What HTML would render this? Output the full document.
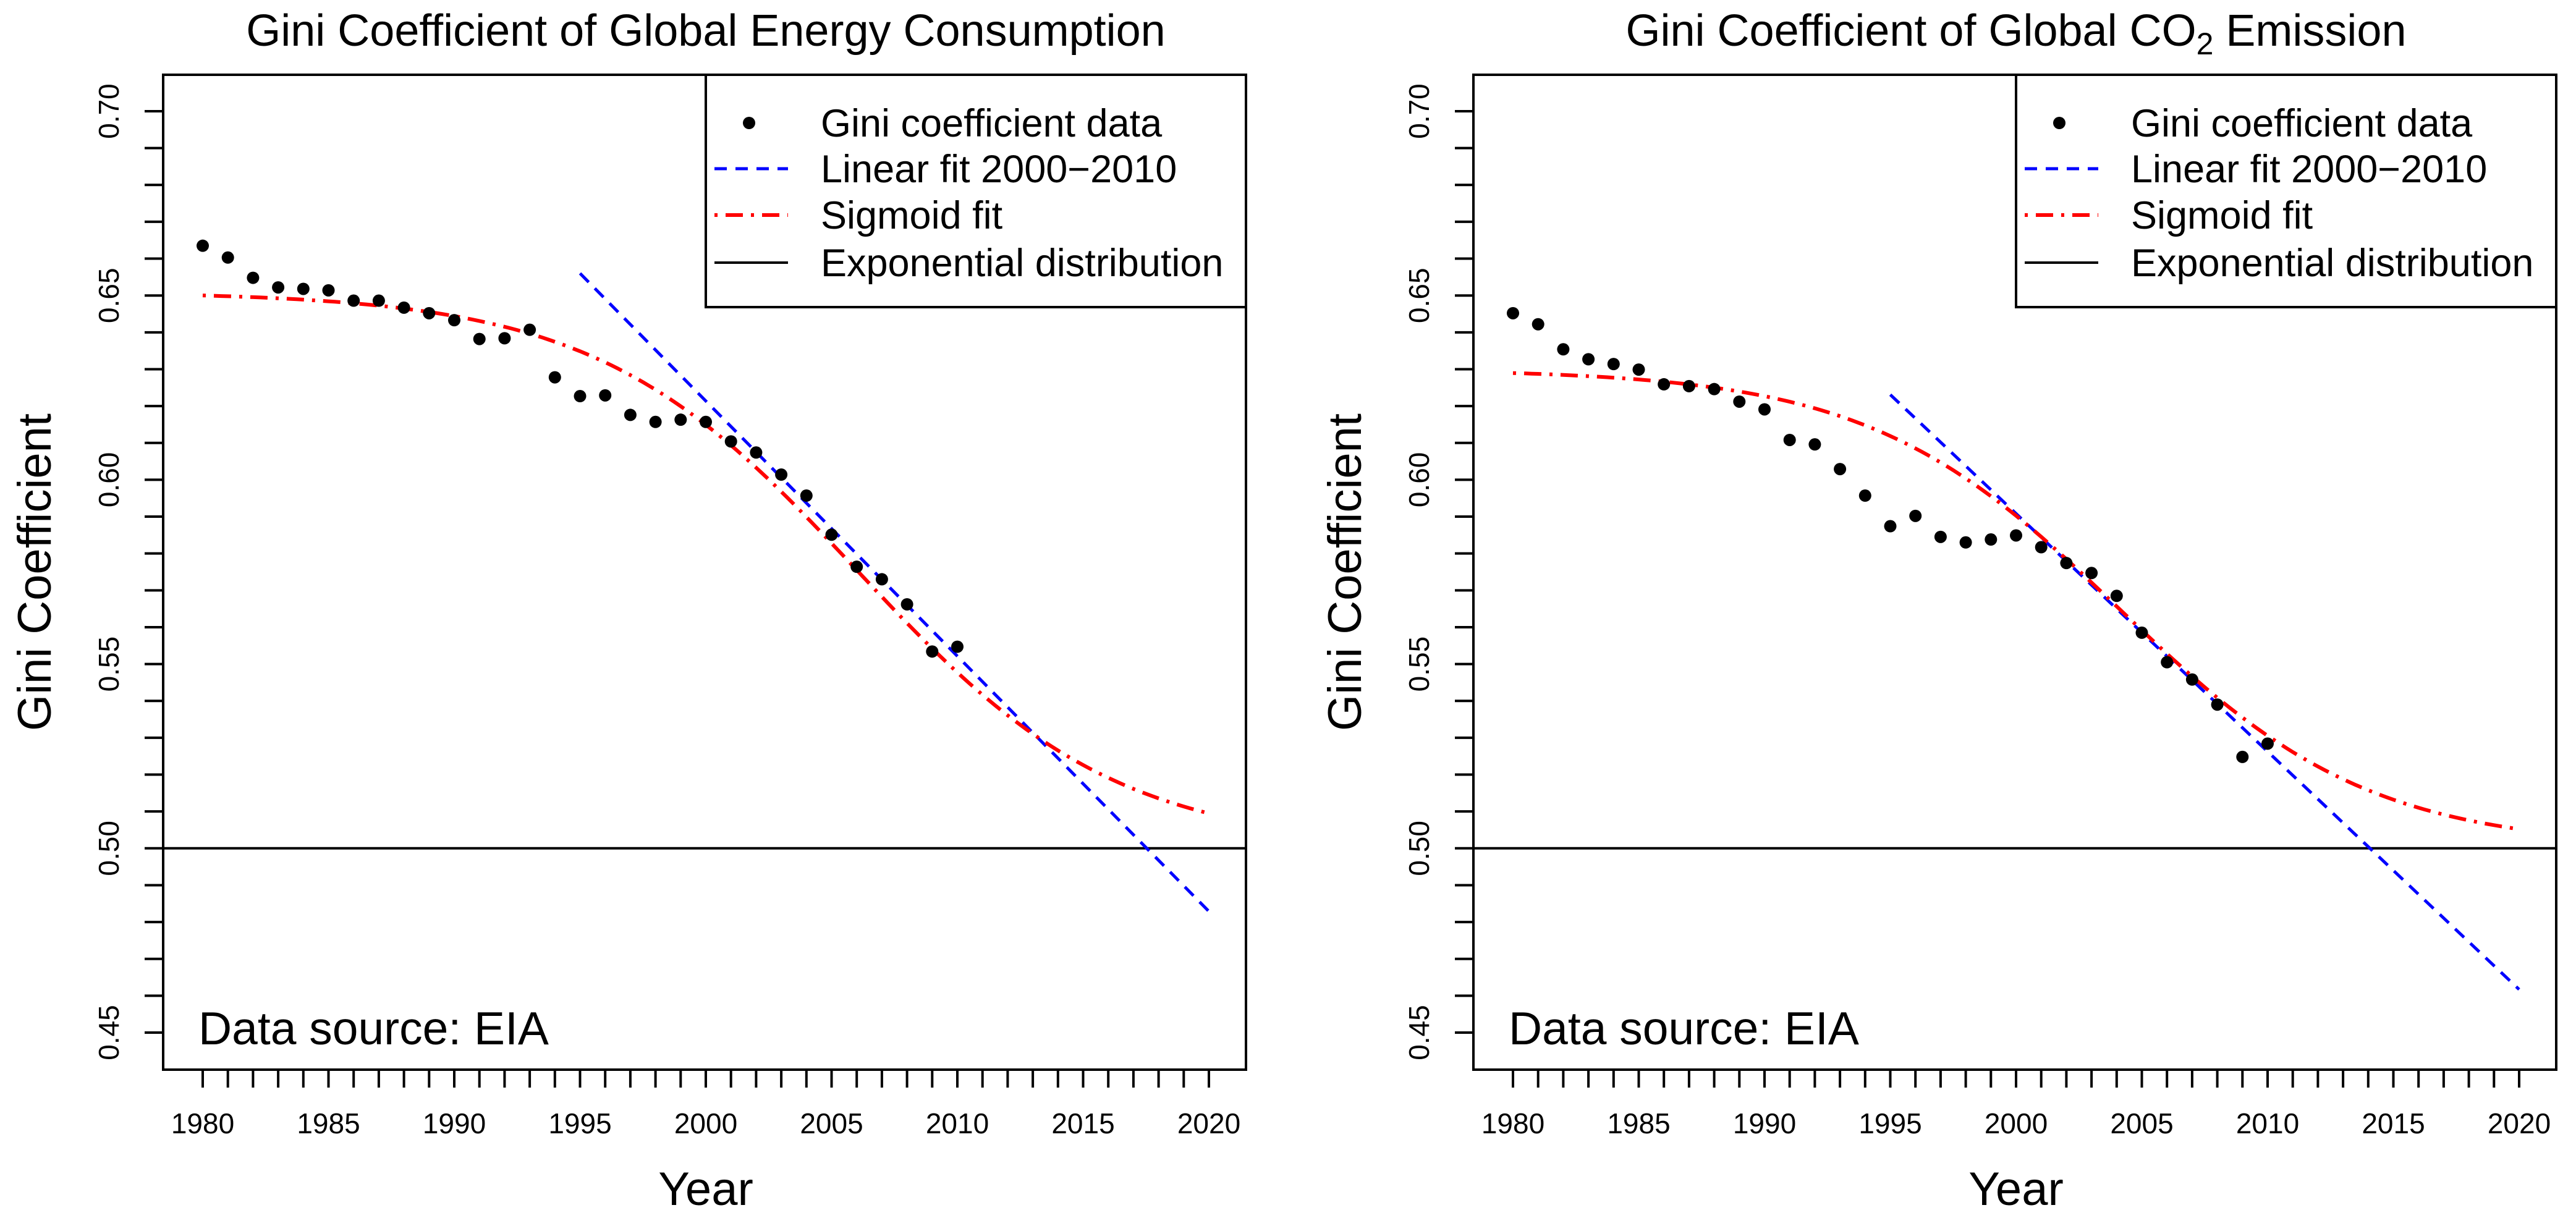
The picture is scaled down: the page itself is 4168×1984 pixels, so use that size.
<!DOCTYPE html>
<html><head><meta charset="utf-8">
<style>
html,body{margin:0;padding:0;background:#fff;}
svg{display:block;font-family:"Liberation Sans",Arial,sans-serif;}
</style></head>
<body>
<svg id="chart" width="4168" height="1984" viewBox="0 0 4168 1984" xmlns="http://www.w3.org/2000/svg"></svg>
<script>
// ---- data ----
const years = [1980,1981,1982,1983,1984,1985,1986,1987,1988,1989,1990,1991,1992,1993,1994,1995,1996,1997,1998,1999,2000,2001,2002,2003,2004,2005,2006,2007,2008,2009,2010];
const energyGini = [0.6635,0.6603,0.6548,0.6522,0.6518,0.6514,0.6486,0.6486,0.6467,0.6452,0.6433,0.6382,0.6384,0.6407,0.6278,0.6227,0.6229,0.6176,0.6157,0.6163,0.6157,0.6104,0.6074,0.6014,0.5957,0.5851,0.5764,0.5730,0.5662,0.5534,0.5547];
const co2Gini = [0.6452,0.6422,0.6354,0.6327,0.6314,0.6299,0.6259,0.6254,0.6246,0.6212,0.6191,0.6108,0.6096,0.6029,0.5957,0.5874,0.5902,0.5845,0.5830,0.5838,0.5849,0.5817,0.5774,0.5747,0.5685,0.5585,0.5505,0.5458,0.5390,0.5248,0.5284];
// linear fit: [value at 1995, value at 2020]
const energyLinear = [0.6560, 0.4829];
const co2Linear = [0.6231, 0.4617];
const linearYears = [1995, 2020];
// sigmoid fit params: [upper, lower, midpoint year, scale]
const energySigmoid = [0.651, 0.500, 2006.0, 5.18];
const co2Sigmoid = [0.630, 0.500, 2004.1, 5.0];
const exponentialLevel = 0.5;
const xTickLabels = [1980,1985,1990,1995,2000,2005,2010,2015,2020];
const yTickLabels = [0.45,0.50,0.55,0.60,0.65,0.70];
const legendLabels = ["Gini coefficient data","Linear fit 2000\u22122010","Sigmoid fit","Exponential distribution"];

const NS = "http://www.w3.org/2000/svg";
const svg = document.getElementById('chart');
function mk(tag, attrs, parent){
  const e = document.createElementNS(NS, tag);
  for (const k in attrs) e.setAttribute(k, attrs[k]);
  (parent||svg).appendChild(e);
  return e;
}

function drawPanel(ox, key, titleParts, gini, lin, sig){
  const L = 264 + ox, R = 2016 + ox, T = 121, B = 1731;
  const xs = y => 328 + ox + (y - 1980) * 40.7;
  const ys = v => 1671 - (v - 0.45) / 0.05 * 298.2;
  const g = mk('g', {});
  
  

  const t = mk('text', {x: 1142 + ox, y: 74, 'font-size': 72, 'text-anchor': 'middle'}, g);
  
  
  titleParts.forEach(p => {
    const s = mk('tspan', p.sub ? {'font-size': 50, dy: 14} : (p.after ? {dy: -14} : {}), t);
    s.textContent = p.text;
  });

  const fr = mk('rect', {x: L, y: T, width: R - L, height: B - T, fill: 'none', stroke: '#000', 'stroke-width': 4}, g);
  
  

  const xa = mk('g', {stroke: '#000', 'stroke-width': 4}, g);
  
  
  for (let y = 1980; y <= 2020; y++) mk('line', {x1: xs(y), x2: xs(y), y1: B, y2: B + 29}, xa);
  xTickLabels.forEach(v => {
    const tl = mk('text', {x: xs(v), y: 1834, 'font-size': 46, 'text-anchor': 'middle'}, g);
    
    
    tl.textContent = v;
  });
  const ya = mk('g', {stroke: '#000', 'stroke-width': 4}, g);
  
  
  for (let i = 45; i <= 70; i++) mk('line', {x1: L - 30, x2: L, y1: ys(i / 100), y2: ys(i / 100)}, ya);
  yTickLabels.forEach(v => {
    const tl = mk('text', {x: 0, y: 0, 'font-size': 46, 'text-anchor': 'middle', transform: `translate(${192 + ox},${ys(v)}) rotate(-90)`}, g);
    
    
    tl.textContent = v.toFixed(2);
  });
  const xt = mk('text', {x: 1142 + ox, y: 1950, 'font-size': 76, 'text-anchor': 'middle'}, g);
  
  
  xt.textContent = 'Year';
  const yt = mk('text', {x: 0, y: 0, 'font-size': 76, 'text-anchor': 'middle', transform: `translate(${82 + ox},926) rotate(-90)`}, g);
  
  
  yt.textContent = 'Gini Coefficient';

  const el = mk('line', {x1: L, x2: R, y1: ys(exponentialLevel), y2: ys(exponentialLevel), stroke: '#000', 'stroke-width': 4}, g);
  
  

  const ll = mk('line', {x1: xs(linearYears[0]), y1: ys(lin[0]), x2: xs(linearYears[1]), y2: ys(lin[1]), stroke: '#0000ff', 'stroke-width': 5, 'stroke-dasharray': '20,14'}, g);
  
  

  let d = '';
  for (let x = 1980; x <= 2020.001; x += 0.25) {
    const v = sig[1] + (sig[0] - sig[1]) / (1 + Math.exp((x - sig[2]) / sig[3]));
    d += (d ? 'L' : 'M') + xs(x).toFixed(1) + ',' + ys(v).toFixed(1);
  }
  const sp = mk('path', {d: d, fill: 'none', stroke: '#ff0000', 'stroke-width': 6, 'stroke-dasharray': '5,13,28,13'}, g);
  
  

  const pg = mk('g', {fill: '#000'}, g);
  
  
  years.forEach((yr, i) => {
    const c = mk('circle', {cx: xs(yr), cy: ys(gini[i]), r: 10}, pg);
    
    
  });

  const ds = mk('text', {x: 321 + ox, y: 1690, 'font-size': 75}, g);
  
  
  ds.textContent = 'Data source: EIA';

  const lg = mk('g', {}, g);
  
  
  const lx = 1142 + ox;
  mk('rect', {x: lx, y: T, width: R - lx, height: 497 - T, fill: '#fff', stroke: '#000', 'stroke-width': 4}, lg);
  const rows = [199, 273, 348, 425];
  mk('circle', {cx: 1212 + ox, cy: rows[0], r: 10, fill: '#000'}, lg);
  mk('line', {x1: 1156 + ox, x2: 1275 + ox, y1: rows[1], y2: rows[1], stroke: '#0000ff', 'stroke-width': 5, 'stroke-dasharray': '20,14'}, lg);
  mk('line', {x1: 1156 + ox, x2: 1275 + ox, y1: rows[2], y2: rows[2], stroke: '#ff0000', 'stroke-width': 6, 'stroke-dasharray': '5,13,28,13'}, lg);
  mk('line', {x1: 1156 + ox, x2: 1275 + ox, y1: rows[3], y2: rows[3], stroke: '#000', 'stroke-width': 4}, lg);
  legendLabels.forEach((lab, i) => {
    const tx = mk('text', {x: 1328 + ox, y: rows[i] + 22, 'font-size': 63}, lg);
    
    
    tx.textContent = lab;
  });
}

drawPanel(0, 'energy', [{text: 'Gini Coefficient of Global Energy Consumption'}], energyGini, energyLinear, energySigmoid);
drawPanel(2120, 'co2', [{text: 'Gini Coefficient of Global CO'}, {text: '2', sub: true}, {text: ' Emission', after: true}], co2Gini, co2Linear, co2Sigmoid);
</script>
</body></html>
